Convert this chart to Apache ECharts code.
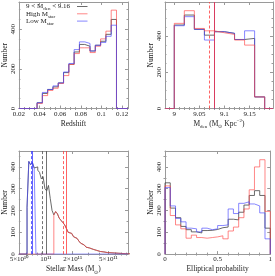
<!DOCTYPE html>
<html><head><meta charset="utf-8">
<script src="https://cdn.jsdelivr.net/npm/echarts@6/dist/echarts.min.js"></script>
<style>html,body{margin:0;padding:0;background:#fff}#c{width:275px;height:276px}</style>
</head><body><div id="c"></div><script>
// ---------- Panel 1: Redshift ----------
const zBinStart = 0.0376, zBinWidth = 0.00513;
const zAll  = [29, 76, 96, 109, 129, 181, 223, 285, 323, 314, 290, 319, 339, 374, 449];
const zHigh = [25, 65, 91, 102, 126, 166, 222, 277, 306, 306, 282, 314, 351, 390, 496];
const zLow  = [29, 81, 96, 114, 129, 184, 227, 297, 336, 328, 290, 319, 333, 364, 420];
const zTicks = [0.02, 0.04, 0.06, 0.08, 0.1, 0.12];
// ---------- Panel 2: M_den ----------
const dBinStart = 9.0, dBinWidth = 0.02;
const dAll  = [461, 516, 437, 405, 424, 415, 381, 387, 64];
const dHigh = [470, 540, 442, 429, 418, 409, 378, 350, 64];
const dLow  = [457, 507, 437, 378, 424, 415, 381, 429, 64];
const dTicks = [9, 9.05, 9.1, 9.15];
const dMeanHigh = [9.0745, 9.0758], dMeanAll = [9.0768, 9.0775], dMeanLow = [9.0785, 9.0798];
// ---------- Panel 3: Stellar mass (log10 M) ----------
const mBinStart = 10.79, mBinWidth = 0.02;
const mAll = [215, 425, 410, 420, 395, 400, 385, 375, 345, 355, 300, 290, 315, 255, 200,
  180, 195, 185, 165, 155, 145, 135, 118, 100, 95, 88, 80, 72, 65, 60, 50, 42, 38, 32, 28,
  25, 22, 19, 17, 14, 12, 11, 10, 8, 7, 7, 6, 5, 5, 4, 4, 3, 3, 2, 2, 2, 1, 1];
const mLowStart = 10.79;
const mLow = [215, 425, 410, 420, 395];
const mHighStart = 11.09;
const mHigh = [180, 195, 185, 165, 155, 145, 135, 118, 100, 95, 88, 80, 72, 65, 60, 50, 42, 38, 32, 28,
  25, 22, 19, 17, 14, 12, 11, 10, 8, 7, 7, 6, 5, 5, 4, 4, 3, 3, 2, 2, 2, 1, 1];
const mTickMass = [5e10, 1e11, 2e11, 5e11];
const mTickLabels = ['5×10¹⁰', '10¹¹', '2×10¹¹', '5×10¹¹'];
const mMinorMass = [6e10, 7e10, 8e10, 9e10, 3e11, 4e11, 6e11, 7e11, 8e11];
const mLinesLow = [10.838, 10.845], mLinesAll = [10.964, 11.0], mLinesHigh = [11.2006, 11.229];
// ---------- Panel 4: Elliptical probability ----------
const eBinStart = 0, eBinWidth = 0.05;
const eAll  = [327, 211, 167, 127, 112, 102, 97, 108, 109, 113, 121, 124, 160, 157, 192, 225, 269, 291, 269, 119];
const eHigh = [313, 177, 134, 116, 73, 87, 76, 73, 76, 79, 84, 70, 106, 124, 167, 207, 295, 400, 433, 196];
const eLow  = [305, 221, 164, 148, 119, 116, 102, 119, 112, 116, 131, 134, 207, 186, 233, 240, 230, 221, 189, 70];
const eTicks = [0, 0.5, 1];

const FONT = 'Liberation Serif';
const AX = '#9a9a9a';
const TXT = '#222';
const C_ALL = 'rgba(70,70,70,0.8)', C_HIGH = 'rgba(255,70,70,0.65)', C_LOW = 'rgba(70,70,255,0.65)';

function steps(a, b, n) { const r = []; for (let v = a; v <= b + 1e-9; v += n) r.push(+v.toFixed(6)); return r; }
function minus(arr, rm) { return arr.filter(v => !rm.some(r => Math.abs(r - v) < 1e-7)); }

function histPts(start, width, counts, lo, hi) {
  const p = [[lo, 0], [start, 0]];
  counts.forEach((c, i) => { p.push([start + i * width, c]); p.push([start + (i + 1) * width, c]); });
  p.push([start + counts.length * width, 0]); p.push([hi, 0]);
  return p;
}

const rich = {
  s: {fontFamily: FONT, fontSize: 5, color: TXT, verticalAlign: 'bottom', lineHeight: 11},
  p: {fontFamily: FONT, fontSize: 5, color: TXT, verticalAlign: 'top', lineHeight: 11}
};

function xAxes(g, min, max, major, minor, fmt, name, gap) {
  const base = {gridIndex: g, type: 'value', min, max, splitLine: {show: false},
    axisLine: {onZero: false, lineStyle: {color: AX}}};
  const tk = (vals, len) => ({inside: true, length: len, customValues: vals, lineStyle: {color: AX}});
  return [
    Object.assign({}, base, {position: 'bottom', axisTick: tk(major, 3),
      axisLabel: {customValues: major, formatter: fmt, fontFamily: FONT, fontSize: 7, color: TXT, margin: 2},
      name, nameLocation: 'middle', nameGap: gap,
      nameTextStyle: {fontFamily: FONT, fontSize: 7.5, color: TXT, lineHeight: 11, rich}}),
    Object.assign({}, base, {position: 'bottom', axisLine: {show: false}, axisTick: tk(minor, 1.5), axisLabel: {show: false}}),
    Object.assign({}, base, {position: 'top', axisTick: tk(major, 3), axisLabel: {show: false}}),
    Object.assign({}, base, {position: 'top', axisLine: {show: false}, axisTick: tk(minor, 1.5), axisLabel: {show: false}})
  ];
}
function yAxes(g, min, max, major, minor, gap) {
  const base = {gridIndex: g, type: 'value', min, max, splitLine: {show: false},
    axisLine: {onZero: false, lineStyle: {color: AX}}};
  const tk = (vals, len) => ({inside: true, length: len, customValues: vals, lineStyle: {color: AX}});
  return [
    Object.assign({}, base, {position: 'left', axisTick: tk(major, 3),
      axisLabel: {customValues: major, rotate: 90, fontFamily: FONT, fontSize: 7, color: TXT, margin: 2},
      name: 'Number', nameLocation: 'middle', nameGap: gap,
      nameTextStyle: {fontFamily: FONT, fontSize: 7.5, color: TXT}}),
    Object.assign({}, base, {position: 'left', axisLine: {show: false}, axisTick: tk(minor, 1.5), axisLabel: {show: false}}),
    Object.assign({}, base, {position: 'right', axisTick: tk(major, 3), axisLabel: {show: false}}),
    Object.assign({}, base, {position: 'right', axisLine: {show: false}, axisTick: tk(minor, 1.5), axisLabel: {show: false}})
  ];
}

const P = [
  {xMin: 0.02, xMax: 0.1257, yMax: 537},
  {xMin: 8.9815, xMax: 9.1966, yMax: 588},
  {xMin: Math.log10(5e10), xMax: 11.92, yMax: 473},
  {xMin: 0, xMax: 1, yMax: 473}
];

const mMajor = mTickMass.map(Math.log10);
const mMinor = mMinorMass.map(Math.log10);
const xAxis = [].concat(
  xAxes(0, P[0].xMin, P[0].xMax, zTicks, minus(steps(0.02, 0.125, 0.005), zTicks), v => String(+v.toFixed(2)), 'Redshift', 7),
  xAxes(1, P[1].xMin, P[1].xMax, dTicks, minus(steps(8.99, 9.19, 0.01), dTicks), v => String(+v.toFixed(2)), 'M{s|den} (M{s|⊙} Kpc{p|−2})', 7),
  xAxes(2, P[2].xMin, P[2].xMax, mMajor, mMinor, v => {
    let k = 0; mMajor.forEach((m, i) => { if (Math.abs(m - v) < Math.abs(mMajor[k] - v)) k = i; }); return mTickLabels[k];
  }, 'Stellar Mass (M{s|⊙})', 4.5),
  xAxes(3, P[3].xMin, P[3].xMax, eTicks, minus(steps(0, 1, 0.1), eTicks), v => String(v), 'Elliptical probability', 4.5)
);
const yAxis = [].concat(
  yAxes(0, 0, P[0].yMax, [0, 200, 400], minus(steps(0, 535, 50), [0, 200, 400]), 8),
  yAxes(1, 0, P[1].yMax, [0, 200, 400], minus(steps(0, 585, 50), [0, 200, 400]), 9),
  yAxes(2, 0, P[2].yMax, [0, 100, 200, 300, 400], minus(steps(0, 470, 50), [0, 100, 200, 300, 400]), 8),
  yAxes(3, 0, P[3].yMax, [0, 100, 200, 300, 400], minus(steps(0, 470, 50), [0, 100, 200, 300, 400]), 9)
);

function lineSeries(g, pts, color, marks) {
  const s = {type: 'line', xAxisIndex: 4 * g, yAxisIndex: 4 * g, data: pts, showSymbol: false, symbol: 'none',
    lineStyle: {color, width: 1}, animation: false, silent: true};
  if (marks) {
    s.markLine = {symbol: ['none', 'none'], silent: true, label: {show: false}, animation: false,
      data: marks.map(m => ({xAxis: m.v, lineStyle: {color: m.c, width: 1, type: m.t}}))};
  }
  return s;
}
const solidDash = (vals, c) => [{v: vals[0], c, t: [3, 2]}, {v: vals[1], c, t: 'solid'}];

const series = [
  lineSeries(0, histPts(zBinStart, zBinWidth, zAll, P[0].xMin, P[0].xMax), C_ALL),
  lineSeries(0, histPts(zBinStart, zBinWidth, zHigh, P[0].xMin, P[0].xMax), C_HIGH),
  lineSeries(0, histPts(zBinStart, zBinWidth, zLow, P[0].xMin, P[0].xMax), C_LOW),
  lineSeries(1, histPts(dBinStart, dBinWidth, dAll, P[1].xMin, P[1].xMax), C_ALL, solidDash(dMeanAll, 'rgba(80,80,80,0.8)')),
  lineSeries(1, histPts(dBinStart, dBinWidth, dLow, P[1].xMin, P[1].xMax), C_LOW, solidDash(dMeanLow, 'rgba(60,60,255,0.8)')),
  lineSeries(1, histPts(dBinStart, dBinWidth, dHigh, P[1].xMin, P[1].xMax), C_HIGH, solidDash(dMeanHigh, 'rgba(255,60,60,0.8)')),
  lineSeries(2, histPts(mBinStart, mBinWidth, mAll, P[2].xMin, P[2].xMax), C_ALL, solidDash(mLinesAll, 'rgba(80,80,80,0.8)')),
  lineSeries(2, histPts(mHighStart, mBinWidth, mHigh, P[2].xMin, P[2].xMax), C_HIGH, solidDash(mLinesHigh, 'rgba(255,60,60,0.8)')),
  lineSeries(2, histPts(mLowStart, mBinWidth, mLow, P[2].xMin, P[2].xMax), C_LOW, solidDash(mLinesLow, 'rgba(60,60,255,0.8)')),
  lineSeries(3, histPts(eBinStart, eBinWidth, eAll, P[3].xMin, P[3].xMax), C_ALL),
  lineSeries(3, histPts(eBinStart, eBinWidth, eHigh, P[3].xMin, P[3].xMax), C_HIGH),
  lineSeries(3, histPts(eBinStart, eBinWidth, eLow, P[3].xMin, P[3].xMax), C_LOW)
];

const legendItems = [
  {text: '9 < M{s|den} < 9.16', color: C_ALL},
  {text: 'High M{s|star}', color: C_HIGH},
  {text: 'Low M{s|star}', color: C_LOW}
];
const graphic = [];
legendItems.forEach((it, i) => {
  const y = 6.5 + i * 7.3;
  graphic.push({type: 'text', x: 26, y: y, silent: true,
    style: {text: it.text, fontFamily: FONT, fontSize: 7, fill: TXT, verticalAlign: 'middle', lineHeight: 10,
      rich: {s: {fontFamily: FONT, fontSize: 5, fill: TXT, verticalAlign: 'bottom', lineHeight: 10}}}});
  graphic.push({type: 'line', silent: true, shape: {x1: 77, y1: y, x2: 87.5, y2: y}, style: {stroke: it.color, lineWidth: 1}});
});

const chart = echarts.init(document.getElementById('c'), null, {renderer: 'canvas'});
chart.setOption({
  animation: false,
  backgroundColor: '#fff',
  grid: [
    {left: 16, top: 2, width: 112, height: 106.5},
    {left: 165, top: 2, width: 108, height: 106.5},
    {left: 16, top: 151, width: 112, height: 108.3},
    {left: 165, top: 151, width: 107.3, height: 108.3}
  ],
  xAxis, yAxis, series, graphic
});
</script></body></html>
